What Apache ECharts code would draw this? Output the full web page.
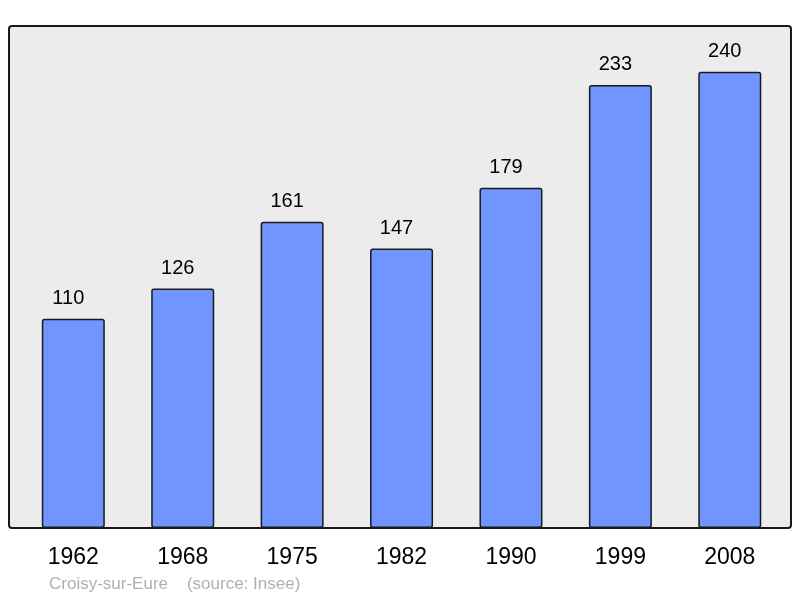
<!DOCTYPE html>
<html>
<head>
<meta charset="utf-8">
<script src="https://cdn.jsdelivr.net/npm/echarts@6/dist/echarts.min.js"></script>
<style>html,body{margin:0;padding:0;background:#fff}#c{width:800px;height:598px}</style>
</head>
<body>
<div id="c"></div>
<script>
const years = ['1962', '1968', '1975', '1982', '1990', '1999', '2008'];
const population = [110, 126, 161, 147, 179, 233, 240];
const sourceText = 'Croisy-sur-Eure    (source: Insee)';

const chart = echarts.init(document.getElementById('c'));
chart.setOption({
  animation: false,
  backgroundColor: '#ffffff',
  textStyle: { fontFamily: 'Liberation Sans' },
  graphic: [
    {
      type: 'rect', z: -10,
      shape: { x: 9, y: 26, width: 782, height: 502, r: 3 },
      style: { fill: '#ececec', stroke: '#1a1a1a', lineWidth: 2 }
    },
    {
      type: 'text', left: 49, top: 576,
      style: { text: sourceText, fill: '#b0b0b0', font: '17px "Liberation Sans"' }
    }
  ],
  grid: { left: 18.6, right: 15.5, top: 26, bottom: 70 },
  xAxis: {
    type: 'category',
    data: years,
    axisLine: { show: false },
    axisTick: { show: false },
    axisLabel: { color: '#000', fontSize: 23, margin: 18, fontFamily: 'Liberation Sans' }
  },
  yAxis: {
    type: 'value', min: 0, max: 264, show: false, splitLine: { show: false }
  },
  series: [{
    type: 'bar',
    data: population,
    barWidth: 63,
    itemStyle: { color: '#7095ff', borderColor: '#1a1a1a', borderWidth: 1.5, borderRadius: 2 },
    label: { show: true, position: 'top', distance: 10, offset: [-5, 0], color: '#000', fontSize: 20, fontFamily: 'Liberation Sans' }
  }]
});
</script>
</body>
</html>
